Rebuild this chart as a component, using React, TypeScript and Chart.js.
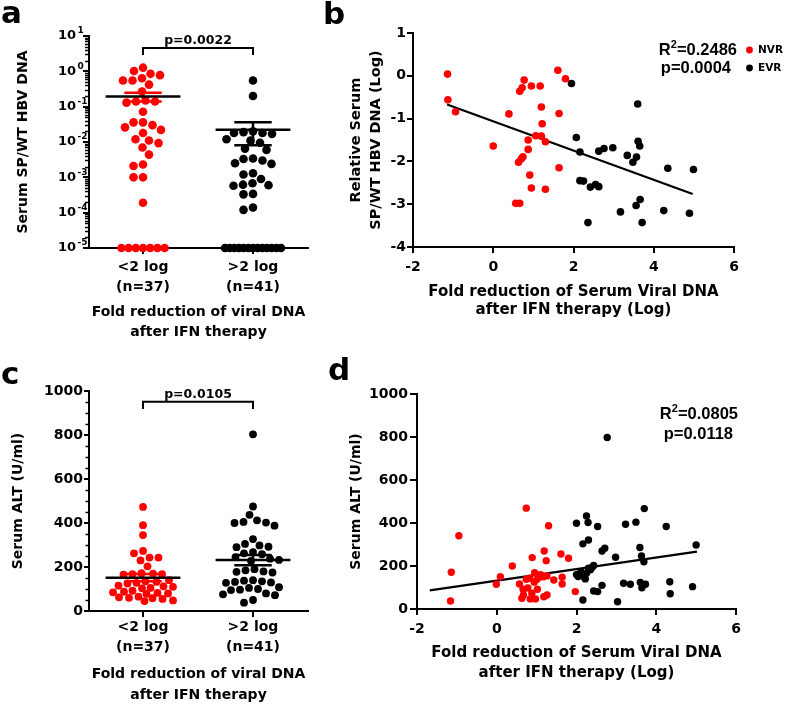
import React, { useEffect, useRef } from 'react';
import { Chart, registerables } from 'chart.js';
Chart.register(...registerables);

const DJ = '"DejaVu Sans", sans-serif';
const LS = '"Liberation Sans", Arial, sans-serif';
const RED = '#ff0000';
const BLACK = '#000000';

// ---------------- data ----------------
const groupTicks = [1, 2];
const groupLabels = [['<2 log', '(n=37)'], ['>2 log', '(n=41)']];
const logTicksA = [1e-5, 1e-4, 1e-3, 1e-2, 1e-1, 1, 10];

// panel a: serum SP/WT HBV DNA ratio
const spwtLow = [1.27, 1.02, 0.85, 0.78, 0.64, 0.55, 0.55, 0.42, 0.27, 0.15, 0.14, 0.14, 0.13, 0.072,
  0.036, 0.036, 0.03, 0.026, 0.022, 0.018, 0.012, 0.011, 0.0093, 0.007, 0.0044, 0.0023, 0.0021,
  0.001, 0.001, 0.00019, 1e-5, 1e-5, 1e-5, 1e-5, 1e-5, 1e-5, 1e-5];
const spwtHigh = [0.55, 0.2, 0.02, 0.019, 0.018, 0.018, 0.017, 0.012, 0.011, 0.0095, 0.0065, 0.006,
  0.0034, 0.0033, 0.003, 0.0025, 0.0024, 0.0013, 0.0012, 0.0009, 0.00068, 0.00062, 0.0006, 0.00058,
  0.00034, 0.00033, 0.00014, 0.00012, 1e-5, 1e-5, 1e-5, 1e-5, 1e-5, 1e-5, 1e-5, 1e-5, 1e-5, 1e-5,
  1e-5, 1e-5, 1e-5];
const pValueA = 'p=0.0022';

// panel c: serum ALT
const altLow = [473, 390, 345, 273, 262, 243, 243, 230, 203, 172, 170, 168, 167, 165, 140, 135, 132,
  128, 125, 115, 112, 110, 105, 103, 92, 88, 85, 82, 80, 78, 65, 62, 60, 58, 55, 48, 45];
const altHigh = [803, 475, 437, 412, 405, 402, 400, 388, 327, 305, 298, 292, 290, 268, 262, 258, 245,
  238, 232, 228, 190, 185, 180, 178, 175, 140, 138, 135, 132, 130, 128, 108, 105, 100, 97, 95, 80,
  76, 72, 50, 38];
const pValueC = 'p=0.0105';

// panel b: fold reduction vs relative SP/WT (log)
const nvrFoldB = [-1.14, -1.13, -0.94, 0.0, 0.39, 0.66, 0.77, 0.72, 0.95, 1.17, 1.2, 1.22, 1.06, 1.2,
  1.3, 0.87, 0.87, 0.74, 0.7, 0.63, 0.91, 0.95, 1.3, 0.56, 0.66, 1.61, 1.8, 1.64, 1.64];
const nvrDnaB = [0.04, -0.56, -0.84, -1.64, -0.89, -0.36, -0.1, -0.28, -0.24, -0.24, -0.73, -1.12,
  -1.4, -1.41, -1.54, -1.5, -1.72, -1.89, -1.94, -2.02, -2.32, -2.62, -2.65, -2.98, -2.98, 0.13,
  -0.07, -0.88, -2.15];
const evrFoldB = [1.95, 3.6, 2.07, 2.16, 2.63, 2.76, 2.98, 3.34, 3.48, 3.57, 3.61, 3.65, 4.35, 4.99,
  2.16, 2.25, 2.42, 2.55, 2.63, 2.36, 3.17, 3.56, 3.66, 3.71, 4.25, 4.89];
const evrDnaB = [-0.18, -0.66, -1.44, -1.78, -1.76, -1.7, -1.68, -1.86, -2.02, -1.9, -1.53, -1.64,
  -2.16, -2.19, -2.45, -2.46, -2.6, -2.54, -2.59, -3.43, -3.18, -3.03, -2.89, -3.43, -3.15, -3.21];
const fitBX = [-1.15, 4.97];
const fitBY = [-0.67, -2.76];
const r2B = '0.2486';
const pB = 'p=0.0004';
const legendNames = ['NVR', 'EVR'];

// panel d: fold reduction vs ALT
const nvrFoldD = [0.74, -0.95, 1.3, -1.14, -1.16, 0.09, -0.01, 0.39, 0.89, 1.19, 1.24, 1.61, 1.8, 1.97,
  1.64, 1.64, 1.43, 1.26, 1.09, 0.95, 0.82, 0.74, 0.57, 0.66, 0.67, 0.63, 0.84, 0.97, 1.02, 1.26,
  1.18, 1.01, 1.17, 0.94, 0.88, 0.78, 1.1];
const nvrAltD = [469, 341, 387, 171, 37, 150, 115, 200, 239, 270, 225, 256, 236, 81, 148, 116, 135,
  154, 150, 169, 143, 138, 116, 92, 65, 50, 47, 47, 92, 65, 57, 138, 150, 125, 73, 98, 160];
const evrFoldD = [2.77, 3.7, 2.25, 2.0, 2.29, 2.53, 3.23, 3.49, 4.25, 2.3, 2.16, 2.71, 2.64, 3.59, 5.0,
  2.98, 3.63, 3.69, 2.43, 2.35, 2.25, 2.11, 2.04, 2.18, 2.22, 2.64, 3.18, 3.35, 3.6, 3.64, 3.73,
  4.34, 4.91, 4.35, 2.43, 2.53, 2.16, 3.03, 2.3, 2.0, 2.4];
const evrAltD = [798, 467, 433, 399, 402, 384, 394, 404, 384, 321, 303, 283, 270, 286, 298, 241, 247,
  220, 202, 182, 166, 174, 151, 151, 140, 110, 120, 115, 124, 99, 115, 127, 104, 71, 84, 81, 42, 34,
  190, 160, 195];
const fitDX = [-1.68, 5.02];
const fitDY = [87, 267];
const r2D = '0.0805';
const pD = 'p=0.0118';

// ---------------- helpers ----------------
function mean(a: number[]) {
  return a.reduce((s, v) => s + v, 0) / a.length;
}
function sem(a: number[]) {
  const m = mean(a);
  const sd = Math.sqrt(a.reduce((s, v) => s + (v - m) * (v - m), 0) / (a.length - 1));
  return sd / Math.sqrt(a.length);
}

// beeswarm offsets in pixels (layout only)
function swarmOffsets(values: number[], toPx: (v: number) => number, minDist: number, maxHalf: number) {
  const out = new Array(values.length).fill(0);
  const groups = new Map<number, number[]>();
  values.forEach((v, i) => {
    if (!groups.has(v)) groups.set(v, []);
    groups.get(v)!.push(i);
  });
  const done = new Set<number>();
  groups.forEach((idxs) => {
    if (idxs.length >= 5) {
      const half = Math.min((idxs.length - 1) * 3.6, maxHalf);
      idxs.forEach((id, j) => {
        out[id] = -half + (2 * half * j) / (idxs.length - 1);
        done.add(id);
      });
    }
  });
  const order = values.map((_, i) => i).filter((i) => !done.has(i)).sort((a, b) => values[b] - values[a]);
  const placed: { x: number; y: number }[] = [];
  for (const i of order) {
    const y = toPx(values[i]);
    let best = 0;
    let bestScore = -1;
    let found = false;
    for (let k = 0; k <= maxHalf && !found; k += 0.5) {
      const cands = k === 0 ? [0] : [-k, k];
      for (const s of cands) {
        let minD = Infinity;
        for (const p of placed) {
          const d = Math.hypot(p.x - s, p.y - y);
          if (d < minD) minD = d;
        }
        if (minD >= minDist) {
          best = s;
          found = true;
          break;
        }
        if (minD > bestScore) {
          bestScore = minD;
          best = s;
        }
      }
    }
    out[i] = best;
    placed.push({ x: best, y });
  }
  return out;
}

function lineDs(pts: number[][], color: string, width: number) {
  return {
    data: pts.map(([x, y]) => ({ x, y })),
    showLine: true,
    borderColor: color,
    backgroundColor: color,
    borderWidth: width,
    pointRadius: 0,
    pointHoverRadius: 0,
    clip: false as const,
    fill: false,
  };
}
function dotDs(pts: { x: number; y: number }[], color: string, r: number) {
  return {
    data: pts,
    backgroundColor: color,
    borderColor: color,
    borderWidth: 0,
    pointRadius: r,
    pointHoverRadius: r,
    showLine: false,
    clip: false as const,
  };
}

function meanSemSets(vals: number[], g: number, semColor: string) {
  const m = mean(vals);
  const s = sem(vals);
  return [
    lineDs([[g - 0.34, m], [g + 0.34, m]], BLACK, 2.5),
    lineDs([[g - 0.17, m + s], [g + 0.17, m + s]], semColor, 2.5),
    lineDs([[g - 0.17, m - s], [g + 0.17, m - s]], semColor, 2.5),
    lineDs([[g, m - s], [g, m + s]], semColor, 2.5),
  ];
}

function axis(opts: any) {
  const { tickLength = 6, ticks = {}, ...rest } = opts;
  return {
    border: { display: true, color: BLACK, width: 2 },
    grid: {
      display: true,
      drawOnChartArea: false,
      drawTicks: true,
      tickLength,
      color: BLACK,
      lineWidth: 2,
      tickColor: BLACK,
      tickWidth: 2,
    },
    ticks: {
      color: BLACK,
      font: { family: DJ, size: 14, weight: 'bold' },
      autoSkip: false,
      maxRotation: 0,
      minRotation: 0,
      ...ticks,
    },
    ...rest,
  };
}

function titleOpt(text: string | string[], size: number, lineHeight: number, padding: any) {
  return {
    display: true,
    text,
    color: BLACK,
    font: { family: DJ, size, weight: 'bold', lineHeight },
    padding,
  };
}

function drawLetter(ctx: CanvasRenderingContext2D, letter: string, x: number, y: number) {
  ctx.save();
  ctx.fillStyle = BLACK;
  ctx.font = `bold 31px ${DJ}`;
  ctx.textAlign = 'left';
  ctx.textBaseline = 'alphabetic';
  ctx.fillText(letter, x, y);
  ctx.restore();
}

function drawBracket(chart: any, level: number, drop: number, text: string) {
  const { ctx, scales } = chart;
  const x1 = scales.x.getPixelForValue(1);
  const x2 = scales.x.getPixelForValue(2);
  const yl = scales.y.getPixelForValue(level);
  const yd = scales.y.getPixelForValue(drop);
  ctx.save();
  ctx.strokeStyle = BLACK;
  ctx.fillStyle = BLACK;
  ctx.lineWidth = 2;
  ctx.beginPath();
  ctx.moveTo(x1, yd);
  ctx.lineTo(x1, yl);
  ctx.lineTo(x2, yl);
  ctx.lineTo(x2, yd);
  ctx.stroke();
  ctx.font = `bold 12.5px ${DJ}`;
  ctx.textAlign = 'center';
  ctx.textBaseline = 'alphabetic';
  ctx.fillText(text, (x1 + x2) / 2, yl - 3.5);
  ctx.restore();
}

function drawStats(ctx: CanvasRenderingContext2D, r2: string, p: string, r2Right: number, r2Y: number, pRight: number, pY: number) {
  ctx.save();
  ctx.fillStyle = BLACK;
  ctx.textBaseline = 'middle';
  ctx.textAlign = 'left';
  const big = `bold 16.5px ${LS}`;
  const small = `bold 11px ${LS}`;
  ctx.font = big;
  const wR = ctx.measureText('R').width;
  const wRest = ctx.measureText('=' + r2).width;
  ctx.font = small;
  const wSup = ctx.measureText('2').width;
  let x = r2Right - (wR + wSup + wRest);
  ctx.font = big;
  ctx.fillText('R', x, r2Y);
  x += wR;
  ctx.font = small;
  ctx.fillText('2', x, r2Y - 5);
  x += wSup;
  ctx.font = big;
  ctx.fillText('=' + r2, x, r2Y);
  ctx.textAlign = 'right';
  ctx.fillText(p, pRight, pY);
  ctx.restore();
}

const baseOptions = {
  responsive: false,
  animation: false as const,
  events: [] as any[],
  devicePixelRatio: 1,
};

// ---------------- panel a ----------------
function configA() {
  const PPU = 110;
  const offL = swarmOffsets(spwtLow, (v) => Math.log10(v) * 35.3, 9.5, 28);
  const offH = swarmOffsets(spwtHigh, (v) => Math.log10(v) * 35.3, 9.5, 28);
  const ptsL = spwtLow.map((v, i) => ({ x: 1 + offL[i] / PPU, y: v }));
  const ptsH = spwtHigh.map((v, i) => ({ x: 2 + offH[i] / PPU, y: v }));
  const plugin = {
    id: 'panelA',
    afterDraw(chart: any) {
      const { ctx, chartArea, scales } = chart;
      const y = scales.y;
      ctx.save();
      ctx.strokeStyle = BLACK;
      ctx.fillStyle = BLACK;
      ctx.lineWidth = 1.5;
      for (let e = -5; e < 1; e++) {
        for (let m = 2; m <= 9; m++) {
          const py = Math.round(y.getPixelForValue(m * Math.pow(10, e))) + 0.5;
          ctx.beginPath();
          ctx.moveTo(chartArea.left - 4, py);
          ctx.lineTo(chartArea.left, py);
          ctx.stroke();
        }
      }
      y.ticks.forEach((t: any) => {
        const py = y.getPixelForValue(t.value);
        const exp = Math.round(Math.log10(t.value));
        const bx = chartArea.left - 13;
        ctx.font = `bold 13px ${DJ}`;
        ctx.textAlign = 'right';
        ctx.textBaseline = 'middle';
        ctx.fillText('10', bx, py);
        ctx.font = `bold 9px ${DJ}`;
        ctx.textAlign = 'left';
        ctx.fillText(String(exp), bx + 1.5, py - 5);
      });
      ctx.restore();
      drawBracket(chart, 4.6, 2.9, pValueA);
      drawLetter(ctx, 'a', 1, 23);
    },
  };
  return {
    type: 'scatter',
    data: {
      datasets: [
        ...meanSemSets(spwtLow, 1, RED),
        ...meanSemSets(spwtHigh, 2, BLACK),
        dotDs(ptsL, RED, 4.3),
        dotDs(ptsH, BLACK, 4.3),
      ],
    },
    options: {
      ...baseOptions,
      layout: { padding: { left: 0, top: 36, right: 17, bottom: 0 } },
      plugins: { legend: { display: false }, tooltip: { enabled: false } },
      scales: {
        x: axis({
          type: 'linear',
          min: 0.509,
          max: 2.5,
          tickLength: 6,
          afterBuildTicks: (s: any) => {
            s.ticks = groupTicks.map((v) => ({ value: v }));
          },
          afterFit: (s: any) => {
            s.height = 104;
          },
          ticks: {
            padding: 3,
            font: { family: DJ, size: 14, weight: 'bold', lineHeight: 1.43 },
            callback: (v: number) => groupLabels[groupTicks.indexOf(v)],
          },
          title: titleOpt(['Fold reduction of viral DNA', 'after IFN therapy'], 14, 1.43, { top: 0, bottom: 10 }),
        }),
        y: axis({
          type: 'logarithmic',
          min: 1e-5,
          max: 10,
          tickLength: 6,
          afterBuildTicks: (s: any) => {
            s.ticks = logTicksA.map((v) => ({ value: v }));
          },
          afterFit: (s: any) => {
            s.width = 89;
          },
          ticks: { display: false },
          title: titleOpt('Serum SP/WT HBV DNA', 14, 1.2, { top: 14.5, bottom: 0 }),
        }),
      },
    },
    plugins: [plugin],
  };
}

// ---------------- panel c ----------------
function configC() {
  const PPU = 110;
  const offL = swarmOffsets(altLow, (v) => v * 0.22, 9, 30);
  const offH = swarmOffsets(altHigh, (v) => v * 0.22, 9, 30);
  const ptsL = altLow.map((v, i) => ({ x: 1 + offL[i] / PPU, y: v }));
  const ptsH = altHigh.map((v, i) => ({ x: 2 + offH[i] / PPU, y: v }));
  const plugin = {
    id: 'panelC',
    afterDraw(chart: any) {
      const { ctx, chartArea, scales } = chart;
      const y = scales.y;
      ctx.save();
      ctx.strokeStyle = BLACK;
      ctx.lineWidth = 1.5;
      for (let v = 50; v < 1000; v += 50) {
        if (v % 200 === 0) continue;
        const py = Math.round(y.getPixelForValue(v)) + 0.5;
        ctx.beginPath();
        ctx.moveTo(chartArea.left - 3.5, py);
        ctx.lineTo(chartArea.left, py);
        ctx.stroke();
      }
      ctx.restore();
      drawBracket(chart, 951, 918, pValueC);
      drawLetter(ctx, 'c', 1, 32);
    },
  };
  return {
    type: 'scatter',
    data: {
      datasets: [
        ...meanSemSets(altLow, 1, RED),
        ...meanSemSets(altHigh, 2, BLACK),
        dotDs(ptsL, RED, 3.9),
        dotDs(ptsH, BLACK, 3.9),
      ],
    },
    options: {
      ...baseOptions,
      layout: { padding: { left: 0, top: 39, right: 17, bottom: 0 } },
      plugins: { legend: { display: false }, tooltip: { enabled: false } },
      scales: {
        x: axis({
          type: 'linear',
          min: 0.509,
          max: 2.5,
          tickLength: 6,
          afterBuildTicks: (s: any) => {
            s.ticks = groupTicks.map((v) => ({ value: v }));
          },
          afterFit: (s: any) => {
            s.height = 95;
          },
          ticks: {
            padding: 0,
            font: { family: DJ, size: 14, weight: 'bold', lineHeight: 1.43 },
            callback: (v: number) => groupLabels[groupTicks.indexOf(v)],
          },
          title: titleOpt(['Fold reduction of viral DNA', 'after IFN therapy'], 14, 1.5, { top: 0, bottom: 0.5 }),
        }),
        y: axis({
          type: 'linear',
          min: 0,
          max: 1000,
          tickLength: 5,
          afterFit: (s: any) => {
            s.width = 89;
          },
          ticks: { stepSize: 200, padding: 1, callback: (v: number) => String(v) },
          title: titleOpt('Serum ALT (U/ml)', 14, 1.2, { top: 10, bottom: 0 }),
        }),
      },
    },
    plugins: [plugin],
  };
}

// ---------------- panel b ----------------
function configB() {
  const nvr = nvrFoldB.map((x, i) => ({ x, y: nvrDnaB[i] }));
  const evr = evrFoldB.map((x, i) => ({ x, y: evrDnaB[i] }));
  const fit = fitBX.map((x, i) => [x, fitBY[i]]);
  const plugin = {
    id: 'panelB',
    afterDraw(chart: any) {
      const { ctx, chartArea } = chart;
      drawStats(ctx, r2B, pB, chartArea.right + 3, chartArea.top + 17, chartArea.right - 3, chartArea.top + 35);
      ctx.save();
      const cols = [RED, BLACK];
      legendNames.forEach((name, i) => {
        const yy = chartArea.top + 17 + i * 18;
        ctx.fillStyle = cols[i];
        ctx.beginPath();
        ctx.arc(chartArea.right + 15.5, yy, 3.4, 0, Math.PI * 2);
        ctx.fill();
        ctx.fillStyle = BLACK;
        ctx.font = `bold 10.5px ${DJ}`;
        ctx.textAlign = 'left';
        ctx.textBaseline = 'middle';
        ctx.fillText(name, chartArea.right + 24, yy);
      });
      ctx.restore();
      drawLetter(ctx, 'b', 3, 24);
    },
  };
  return {
    type: 'scatter',
    data: {
      datasets: [dotDs(nvr, RED, 3.8), dotDs(evr, BLACK, 3.8), lineDs(fit, BLACK, 2.2)],
    },
    options: {
      ...baseOptions,
      layout: { padding: { left: 0, top: 33, right: 53, bottom: 0 } },
      plugins: { legend: { display: false }, tooltip: { enabled: false } },
      scales: {
        x: axis({
          type: 'linear',
          min: -2,
          max: 6,
          tickLength: 6,
          afterFit: (s: any) => {
            s.height = 105;
          },
          ticks: { stepSize: 2, padding: 5.5, callback: (v: number) => String(v) },
          title: titleOpt(['Fold reduction of Serum Viral DNA', 'after IFN therapy (Log)'], 15, 1.2, { top: 0, bottom: 33 }),
        }),
        y: axis({
          type: 'linear',
          min: -4,
          max: 1,
          tickLength: 6,
          afterFit: (s: any) => {
            s.width = 93;
          },
          ticks: { stepSize: 1, padding: 1, callback: (v: number) => String(v) },
          title: titleOpt(['Relative Serum', 'SP/WT HBV DNA (Log)'], 14.5, 1.38, { top: 26, bottom: 0 }),
        }),
      },
    },
    plugins: [plugin],
  };
}

// ---------------- panel d ----------------
function configD() {
  const nvr = nvrFoldD.map((x, i) => ({ x, y: nvrAltD[i] }));
  const evr = evrFoldD.map((x, i) => ({ x, y: evrAltD[i] }));
  const fit = fitDX.map((x, i) => [x, fitDY[i]]);
  const plugin = {
    id: 'panelD',
    afterDraw(chart: any) {
      const { ctx, chartArea } = chart;
      drawStats(ctx, r2D, pD, chartArea.right + 2, chartArea.top + 20, chartArea.right - 3, chartArea.top + 40);
      drawLetter(ctx, 'd', 8, 28);
    },
  };
  return {
    type: 'scatter',
    data: {
      datasets: [dotDs(nvr, RED, 3.7), dotDs(evr, BLACK, 3.7), lineDs(fit, BLACK, 2.2)],
    },
    options: {
      ...baseOptions,
      layout: { padding: { left: 0, top: 42, right: 51, bottom: 0 } },
      plugins: { legend: { display: false }, tooltip: { enabled: false } },
      scales: {
        x: axis({
          type: 'linear',
          min: -2,
          max: 6,
          tickLength: 6,
          afterFit: (s: any) => {
            s.height = 97;
          },
          ticks: { stepSize: 2, padding: 5.5, callback: (v: number) => String(v) },
          title: titleOpt(['Fold reduction of Serum Viral DNA', 'after IFN therapy (Log)'], 15, 1.33, { top: 0, bottom: 23 }),
        }),
        y: axis({
          type: 'linear',
          min: 0,
          max: 1000,
          tickLength: 7,
          afterFit: (s: any) => {
            s.width = 97;
          },
          ticks: { stepSize: 200, padding: 2, callback: (v: number) => String(v) },
          title: titleOpt('Serum ALT (U/ml)', 14, 1.2, { top: 28, bottom: 0 }),
        }),
      },
    },
    plugins: [plugin],
  };
}

function Panel({ make, left, top, width, height }: { make: () => any; left: number; top: number; width: number; height: number }) {
  const ref = useRef<HTMLCanvasElement>(null);
  useEffect(() => {
    const chart = new Chart(ref.current as HTMLCanvasElement, make());
    return () => chart.destroy();
  }, [make]);
  return (
    <canvas
      ref={ref}
      width={width}
      height={height}
      style={{ position: 'absolute', left, top, width, height, display: 'block' }}
    />
  );
}

export default function App() {
  return (
    <div style={{ position: 'absolute', left: 0, top: 0, width: 787, height: 706, background: '#ffffff', overflow: 'hidden' }}>
      <Panel make={configA} left={0} top={0} width={325} height={352} />
      <Panel make={configB} left={320} top={0} width={467} height={352} />
      <Panel make={configC} left={0} top={352} width={325} height={354} />
      <Panel make={configD} left={320} top={352} width={467} height={354} />
    </div>
  );
}
